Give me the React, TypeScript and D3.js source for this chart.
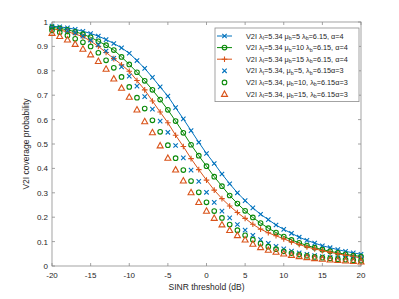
import { useRef, useEffect } from 'react'
import * as d3 from 'd3'

// SINR threshold grid (dB)
const snr = [-20, -19, -18, -17, -16, -15, -14, -13, -12, -11, -10, -9, -8, -7, -6, -5, -4, -3, -2, -1, 0,
  1, 2, 3, 4, 5, 6, 7, 8, 9, 10, 11, 12, 13, 14, 15, 16, 17, 18, 19, 20]

// alpha = 4 (lines)
const mu5a4 = [0.983, 0.980, 0.976, 0.970, 0.962, 0.953, 0.942, 0.928, 0.912, 0.894, 0.872, 0.842, 0.810, 0.773,
  0.734, 0.696, 0.649, 0.603, 0.555, 0.507, 0.461, 0.420, 0.377, 0.337, 0.300, 0.268, 0.238, 0.212, 0.190, 0.168,
  0.150, 0.134, 0.118, 0.105, 0.094, 0.083, 0.075, 0.067, 0.060, 0.054, 0.048]
const mu10a4 = [0.978, 0.974, 0.968, 0.960, 0.950, 0.937, 0.921, 0.905, 0.885, 0.857, 0.826, 0.794, 0.759, 0.722,
  0.682, 0.640, 0.594, 0.546, 0.497, 0.452, 0.409, 0.366, 0.327, 0.289, 0.256, 0.226, 0.199, 0.176, 0.155, 0.137,
  0.121, 0.107, 0.095, 0.084, 0.075, 0.067, 0.060, 0.054, 0.048, 0.043, 0.039]
const mu15a4 = [0.972, 0.967, 0.960, 0.951, 0.940, 0.922, 0.900, 0.875, 0.850, 0.825, 0.798, 0.760, 0.722, 0.676,
  0.631, 0.587, 0.536, 0.490, 0.440, 0.395, 0.352, 0.311, 0.276, 0.246, 0.219, 0.195, 0.171, 0.151, 0.136, 0.124,
  0.111, 0.099, 0.088, 0.078, 0.070, 0.063, 0.056, 0.050, 0.044, 0.039, 0.033]

// alpha = 3 (markers only)
const mu5a3 = [0.975, 0.970, 0.964, 0.955, 0.942, 0.926, 0.906, 0.881, 0.851, 0.816, 0.778, 0.737, 0.694, 0.643,
  0.594, 0.548, 0.494, 0.443, 0.393, 0.347, 0.302, 0.261, 0.225, 0.197, 0.170, 0.147, 0.126, 0.108, 0.093, 0.081,
  0.070, 0.061, 0.054, 0.048, 0.043, 0.039, 0.036, 0.033, 0.031, 0.029, 0.027]
const mu10a3 = [0.966, 0.958, 0.945, 0.931, 0.917, 0.900, 0.874, 0.843, 0.812, 0.775, 0.734, 0.690, 0.645, 0.597,
  0.550, 0.495, 0.442, 0.393, 0.348, 0.302, 0.261, 0.225, 0.197, 0.170, 0.147, 0.126, 0.108, 0.092, 0.079, 0.069,
  0.060, 0.053, 0.047, 0.042, 0.037, 0.034, 0.031, 0.028, 0.026, 0.024, 0.022]
const mu15a3 = [0.955, 0.942, 0.928, 0.910, 0.890, 0.867, 0.840, 0.808, 0.768, 0.730, 0.693, 0.641, 0.593, 0.548,
  0.494, 0.443, 0.395, 0.350, 0.302, 0.262, 0.226, 0.197, 0.170, 0.147, 0.126, 0.108, 0.091, 0.077, 0.066, 0.058,
  0.051, 0.045, 0.040, 0.036, 0.032, 0.029, 0.026, 0.024, 0.022, 0.020, 0.018]

const xTicks = [-20, -15, -10, -5, 0, 5, 10, 15, 20]
const yTicks = [0, 0.1, 0.2, 0.3, 0.4, 0.5, 0.6, 0.7, 0.8, 0.9, 1]

type Marker = 'x' | 'o' | '+' | '^'
interface Series {
  values: number[]
  color: string
  marker: Marker
  line: boolean
  mu: string
  alpha4: boolean
}

const BLUE = '#0072BD'
const GREEN = '#0A8A0A'
const ORANGE = '#D95319'

const series: Series[] = [
  { values: mu5a4, color: BLUE, marker: 'x', line: true, mu: '5', alpha4: true },
  { values: mu10a4, color: GREEN, marker: 'o', line: true, mu: '10', alpha4: true },
  { values: mu15a4, color: ORANGE, marker: '+', line: true, mu: '15', alpha4: true },
  { values: mu5a3, color: BLUE, marker: 'x', line: false, mu: '5', alpha4: false },
  { values: mu10a3, color: GREEN, marker: 'o', line: false, mu: '10', alpha4: false },
  { values: mu15a3, color: ORANGE, marker: '^', line: false, mu: '15', alpha4: false },
]

function drawMarker(g: d3.Selection<SVGGElement, unknown, null, undefined>, m: Marker, x: number, y: number, color: string) {
  if (m === 'x') {
    const s = 2.2
    g.append('path').attr('d', `M${x - s},${y - s}L${x + s},${y + s}M${x - s},${y + s}L${x + s},${y - s}`)
      .attr('stroke', color).attr('stroke-width', 1.1).attr('fill', 'none')
  } else if (m === 'o') {
    g.append('circle').attr('cx', x).attr('cy', y).attr('r', 2.3)
      .attr('stroke', color).attr('stroke-width', 1.1).attr('fill', 'none')
  } else if (m === '+') {
    const s = 2.8
    g.append('path').attr('d', `M${x - s},${y}L${x + s},${y}M${x},${y - s}L${x},${y + s}`)
      .attr('stroke', color).attr('stroke-width', 1.1).attr('fill', 'none')
  } else {
    const s = 3
    g.append('path').attr('d', `M${x},${y - s}L${x + s},${y + s * 0.8}L${x - s},${y + s * 0.8}Z`)
      .attr('stroke', color).attr('stroke-width', 1.1).attr('fill', 'none')
  }
}

export default function App() {
  const svgRef = useRef<SVGSVGElement>(null)
  const width = 399
  const height = 299
  const margin = { top: 22, right: 38, bottom: 33, left: 52 }

  useEffect(() => {
    if (!svgRef.current) return
    const svg = d3.select(svgRef.current)
    svg.selectAll('*').remove()

    const innerWidth = width - margin.left - margin.right
    const innerHeight = height - margin.top - margin.bottom
    const x = d3.scaleLinear().domain([-20, 20]).range([0, innerWidth])
    const y = d3.scaleLinear().domain([0, 1]).range([innerHeight, 0])

    svg.append('rect').attr('width', width).attr('height', height).attr('fill', '#fff')

    const g = svg.append('g').attr('transform', `translate(${margin.left},${margin.top})`)
    const font = 'Liberation Sans, Arial, sans-serif'
    const axisColor = '#262626'
    const tickLen = 3

    // box
    g.append('rect').attr('width', innerWidth).attr('height', innerHeight)
      .attr('fill', 'none').attr('stroke', '#8c8c8c').attr('stroke-width', 0.8)

    // ticks
    xTicks.forEach(t => {
      const px = x(t)
      g.append('line').attr('x1', px).attr('x2', px).attr('y1', innerHeight).attr('y2', innerHeight - tickLen)
        .attr('stroke', '#8c8c8c').attr('stroke-width', 0.8)
      g.append('line').attr('x1', px).attr('x2', px).attr('y1', 0).attr('y2', tickLen)
        .attr('stroke', '#8c8c8c').attr('stroke-width', 0.8)
      g.append('text').attr('x', px).attr('y', innerHeight + 12).attr('text-anchor', 'middle')
        .attr('font-family', font).attr('font-size', 8).attr('fill', axisColor).text(String(t))
    })
    yTicks.forEach(t => {
      const py = y(t)
      g.append('line').attr('x1', 0).attr('x2', tickLen).attr('y1', py).attr('y2', py)
        .attr('stroke', '#8c8c8c').attr('stroke-width', 0.8)
      g.append('line').attr('x1', innerWidth).attr('x2', innerWidth - tickLen).attr('y1', py).attr('y2', py)
        .attr('stroke', '#8c8c8c').attr('stroke-width', 0.8)
      g.append('text').attr('x', -4).attr('y', py + 3).attr('text-anchor', 'end')
        .attr('font-family', font).attr('font-size', 8).attr('fill', axisColor).text(String(t))
    })

    // axis labels
    g.append('text').attr('x', innerWidth / 2).attr('y', innerHeight + 24).attr('text-anchor', 'middle')
      .attr('font-family', font).attr('font-size', 8.5).attr('fill', axisColor).text('SINR threshold (dB)')
    g.append('text').attr('transform', `translate(-23,${innerHeight / 2}) rotate(-90)`).attr('text-anchor', 'middle')
      .attr('font-family', font).attr('font-size', 8.5).attr('fill', axisColor).text('V2I coverage probability')

    // series
    const lineGen = d3.line<number>().x((_, i) => x(snr[i])).y(d => y(d))
    series.forEach(s => {
      const sg = g.append('g')
      if (s.line) {
        sg.append('path').datum(s.values).attr('d', lineGen).attr('fill', 'none')
          .attr('stroke', s.color).attr('stroke-width', 1)
      }
      s.values.forEach((v, i) => drawMarker(sg, s.marker, x(snr[i]), y(v), s.color))
    })

    // legend
    const lg = svg.append('g').attr('transform', 'translate(215,28)')
    const lw = 144
    const rowH = 11.6
    lg.append('rect').attr('width', lw).attr('height', rowH * series.length + 4)
      .attr('fill', '#fff').attr('stroke', '#8c8c8c').attr('stroke-width', 0.8)
    series.forEach((s, i) => {
      const cy = 8 + i * rowH
      const row = lg.append('g')
      if (s.line) {
        row.append('line').attr('x1', 2).attr('x2', 17).attr('y1', cy).attr('y2', cy)
          .attr('stroke', s.color).attr('stroke-width', 1)
      }
      drawMarker(row as any, s.marker, 9.5, cy, s.color)
      const t = row.append('text').attr('x', 31).attr('y', cy + 2.5)
        .attr('font-family', font).attr('font-size', 7.3).attr('fill', axisColor)
      const parts: [string, boolean][] = s.alpha4
        ? [['V2I λ', false], ['I', true], ['=5.34 μ', false], ['b', true], [`=${s.mu} λ`, false], ['b', true], ['=6.15, α=4', false]]
        : [['V2I λ', false], ['I', true], ['=5.34, μ', false], ['b', true], [`=${s.mu}, λ`, false], ['b', true], ['=6.15α=3', false]]
      parts.forEach(([txt, sub]) => {
        if (sub) {
          t.append('tspan').attr('font-size', 5.2).attr('dy', 1.5).text(txt)
        } else {
          const ts = t.append('tspan').text(txt)
          if (t.selectAll('tspan').size() > 1) ts.attr('dy', -1.5)
        }
      })
    })
  }, [])

  return (
    <svg
      ref={svgRef}
      width={width}
      height={height}
      style={{ position: 'absolute', left: 0, top: 0, display: 'block' }}
    />
  )
}
